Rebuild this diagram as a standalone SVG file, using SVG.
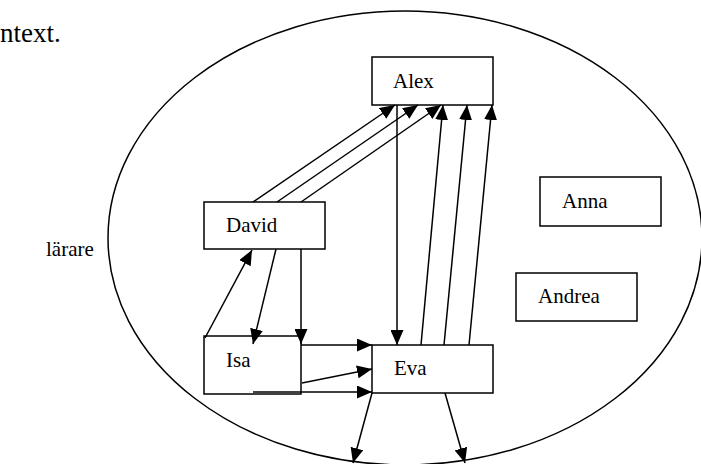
<svg xmlns="http://www.w3.org/2000/svg" width="701" height="464" viewBox="0 0 701 464">
<style>
.box{fill:#fff;stroke:#000;stroke-width:1.5}
.lbl{font-family:"Liberation Serif","Times New Roman",serif;font-size:21px;fill:#000}
.ln{stroke:#000;stroke-width:1.5;fill:none;marker-end:url(#ah)}
</style>
<defs>
<marker id="ah" markerUnits="userSpaceOnUse" markerWidth="15" markerHeight="13" refX="15" refY="6.5" orient="auto">
<path d="M0,0 L15,6.5 L0,13 z" fill="#000"/>
</marker>
</defs>
<rect width="701" height="464" fill="#fff"/>
<text x="0" y="42" class="lbl" style="font-size:27px">ntext.</text>
<text x="46" y="256" class="lbl">lärare</text>
<ellipse cx="405" cy="238" rx="297" ry="227" fill="none" stroke="#000" stroke-width="1.5"/>
<g id="alex"><rect class="box" x="372" y="57" width="121" height="48"/><text class="lbl" x="393" y="88">Alex</text></g>
<g id="david"><rect class="box" x="204" y="202" width="121" height="47"/><text class="lbl" x="226" y="232">David</text></g>
<g id="isa"><rect class="box" x="204" y="336" width="97" height="58"/><text class="lbl" x="226" y="367">Isa</text></g>
<g id="eva"><rect class="box" x="372" y="345" width="121" height="48"/><text class="lbl" x="394" y="375">Eva</text></g>
<g id="anna"><rect class="box" x="540" y="177" width="121" height="49"/><text class="lbl" x="562" y="208">Anna</text></g>
<g id="andrea"><rect class="box" x="516" y="273" width="121" height="48"/><text class="lbl" x="538" y="303">Andrea</text></g>
<g id="connectors">
<line class="ln" x1="253" y1="202" x2="395" y2="105"/>
<line class="ln" x1="277" y1="202" x2="418" y2="105"/>
<line class="ln" x1="301" y1="202" x2="441" y2="105"/>
<line class="ln" x1="397" y1="105" x2="397" y2="345"/>
<line class="ln" x1="421" y1="345" x2="443" y2="105"/>
<line class="ln" x1="444" y1="345" x2="467" y2="105"/>
<line class="ln" x1="469" y1="345" x2="492" y2="105"/>
<line class="ln" x1="276" y1="249" x2="253" y2="344"/>
<line class="ln" x1="301" y1="249" x2="301" y2="344"/>
<line class="ln" x1="205" y1="338" x2="252" y2="250"/>
<line class="ln" x1="301" y1="345" x2="372" y2="345"/>
<line class="ln" x1="302" y1="383" x2="372" y2="369"/>
<line class="ln" x1="253" y1="392" x2="372" y2="392"/>
<line class="ln" x1="372" y1="393" x2="353" y2="463"/>
<line class="ln" x1="445" y1="393" x2="465" y2="463"/>
</g>
</svg>
